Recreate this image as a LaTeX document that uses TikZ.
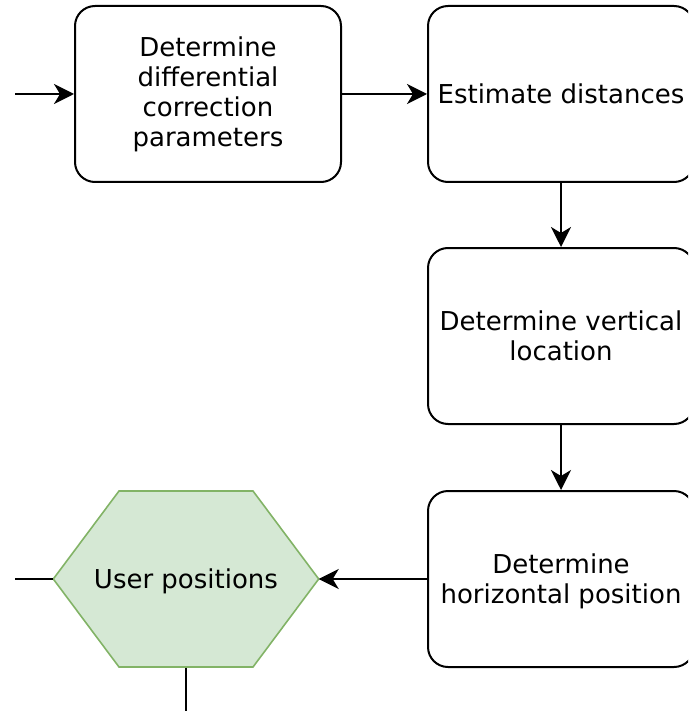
\documentclass[tikz,border=0pt]{standalone}
\usepackage{fontspec}
\setmainfont{DejaVu Sans}
\usetikzlibrary{arrows.meta}
\begin{document}
\begin{tikzpicture}[x=1pt,y=-1pt,
  proc/.style={draw=black, line width=2pt, rounded corners=20pt, minimum width=266pt, minimum height=176pt, align=center, font=\fontsize{26}{30}\selectfont, inner sep=0pt},
  conn/.style={draw=black, line width=2pt},
  arr/.style={conn, -{Stealth[length=20pt,width=20pt,inset=6pt]}}]
\useasboundingbox (0,0) rectangle (688,711);
\begin{scope}
\clip (0,0) rectangle (688,711);
\node[proc] (b1) at (208,94) {Determine\\differential\\correction\\parameters};
\node[proc] (b2) at (561,94) {Estimate distances};
\node[proc] (b3) at (561,336) {Determine vertical\\location};
\node[proc, text depth=0pt] (b4) at (561,579) {Determine\\horizontal position};
\node[minimum width=265pt, minimum height=177pt, inner sep=0pt] (hex) at (186,579) {};
\fill[fill={rgb,255:red,213;green,232;blue,212}, draw={rgb,255:red,130;green,179;blue,102}, line width=1.6pt]
  (hex.west) -- (119,491) -- (253,491) -- (hex.east) -- (253,667) -- (119,667) -- cycle;
\node[font=\fontsize{26}{30}\selectfont, text depth=0pt] (hexlabel) at (hex.center) {User positions};
\coordinate (in) at (15,94);
\coordinate (out) at (15,579);
\coordinate (down) at (186,720);
\draw[arr] (in) -- (b1.west);
\draw[arr] (b1.east) -- (b2.west);
\draw[arr] (b2.south) -- (b3.north);
\draw[arr] (b3.south) -- (b4.north);
\draw[arr] (b4.west) -- (hex.east);
\draw[conn] (hex.west) -- (out);
\draw[conn] (hex.south) -- (down);
\end{scope}
\end{tikzpicture}
\end{document}
